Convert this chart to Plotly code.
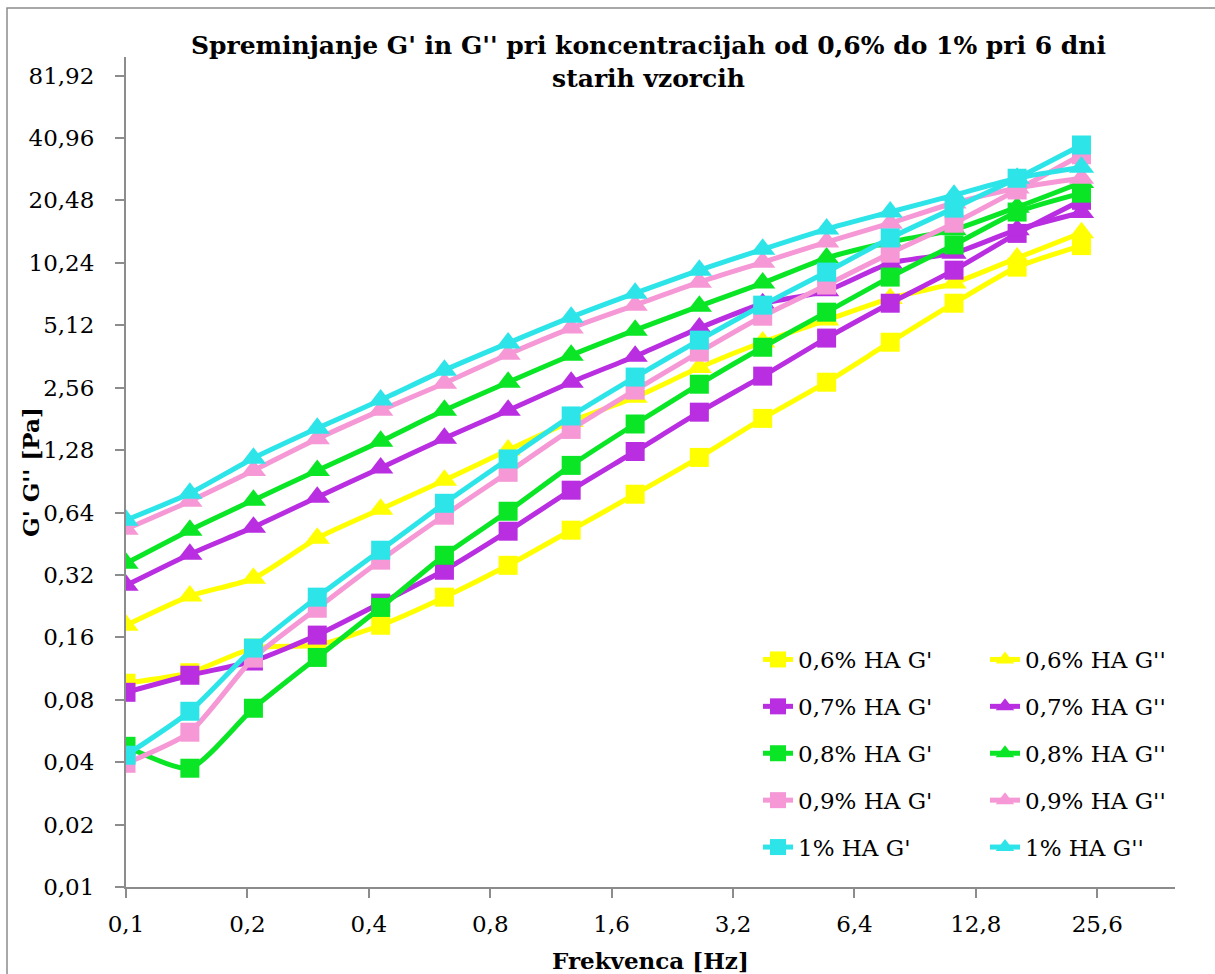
import plotly.graph_objects as go

# ---- data ----
freq = [0.1, 0.144, 0.207, 0.298, 0.428, 0.616, 0.886, 1.27, 1.83, 2.64, 3.79, 5.46, 7.85, 11.3, 16.2, 23.4]

g1_06 = [0.0961, 0.108, 0.142, 0.147, 0.183, 0.25, 0.356, 0.526, 0.784, 1.18, 1.82, 2.72, 4.24, 6.54, 9.76, 12.4]
g2_06 = [0.183, 0.253, 0.308, 0.481, 0.664, 0.916, 1.28, 1.76, 2.30, 3.2, 4.25, 5.42, 6.9, 8.18, 10.8, 14.3]
g1_07 = [0.0869, 0.105, 0.123, 0.164, 0.234, 0.337, 0.52, 0.82, 1.26, 1.95, 2.91, 4.44, 6.54, 9.44, 14.2, 20.5]
g2_07 = [0.285, 0.403, 0.544, 0.758, 1.05, 1.46, 1.99, 2.72, 3.63, 4.96, 6.5, 7.5, 10.2, 11.4, 14.8, 17.9]
g1_08 = [0.0477, 0.0374, 0.0728, 0.128, 0.223, 0.398, 0.649, 1.08, 1.71, 2.66, 4.01, 5.92, 8.74, 12.5, 18.0, 22.2]
g2_08 = [0.364, 0.526, 0.734, 1.02, 1.41, 1.99, 2.72, 3.67, 4.85, 6.33, 8.18, 10.8, 12.9, 14.8, 19.0, 25.0]
g1_09 = [0.0395, 0.0558, 0.127, 0.221, 0.377, 0.621, 1.0, 1.61, 2.49, 3.80, 5.66, 8.0, 11.4, 15.9, 23.0, 34.0]
g2_09 = [0.532, 0.726, 1.02, 1.45, 1.99, 2.69, 3.71, 4.96, 6.40, 8.26, 10.3, 12.9, 15.9, 19.9, 23.5, 26.2]
g1_10 = [0.0432, 0.0704, 0.142, 0.25, 0.421, 0.709, 1.16, 1.87, 2.88, 4.34, 6.40, 9.24, 13.5, 18.8, 26.2, 37.9]
g2_10 = [0.588, 0.793, 1.17, 1.63, 2.23, 3.11, 4.20, 5.60, 7.31, 9.44, 11.9, 14.9, 18.0, 21.7, 26.2, 29.6]

names_g1 = ["0,6% HA G'", "0,7% HA G'", "0,8% HA G'", "0,9% HA G'", "1% HA G'"]
names_g2 = ["0,6% HA G''", "0,7% HA G''", "0,8% HA G''", "0,9% HA G''", "1% HA G''"]
colors = ["#FFFF00", "#B92EE0", "#0AE626", "#F598D5", "#2DE5E8"]

x_tickvals = [0.1, 0.2, 0.4, 0.8, 1.6, 3.2, 6.4, 12.8, 25.6]
x_ticktext = ["0,1", "0,2", "0,4", "0,8", "1,6", "3,2", "6,4", "12,8", "25,6"]
y_tickvals = [0.01, 0.02, 0.04, 0.08, 0.16, 0.32, 0.64, 1.28, 2.56, 5.12, 10.24, 20.48, 40.96, 81.92]
y_ticktext = ["0,01", "0,02", "0,04", "0,08", "0,16", "0,32", "0,64", "1,28", "2,56", "5,12",
              "10,24", "20,48", "40,96", "81,92"]

title_text = "<b>Spreminjanje G' in G'' pri koncentracijah od 0,6% do 1% pri 6 dni<br>starih vzorcih</b>"

FONT = "DejaVu Serif"
FS = 23

g1_series = [g1_06, g1_07, g1_08, g1_09, g1_10]
g2_series = [g2_06, g2_07, g2_08, g2_09, g2_10]

fig = go.Figure()
for k in range(5):
    fig.add_trace(go.Scatter(
        x=freq, y=g1_series[k], name=names_g1[k], mode="lines+markers",
        line=dict(color=colors[k], width=5, shape="spline", smoothing=0.6),
        marker=dict(symbol="square", size=19, color=colors[k]),
        legend="legend", legendgroup="a%d" % k))
    fig.add_trace(go.Scatter(
        x=freq, y=g2_series[k], name=names_g2[k], mode="lines+markers",
        line=dict(color=colors[k], width=5, shape="spline", smoothing=0.6),
        marker=dict(symbol="triangle-up", size=22, color=colors[k]),
        legend="legend2", legendgroup="b%d" % k))

L, R, T, B = 126, 40, 57, 87
W, H = 1215, 974
pw = W - L - R
ph = H - T - B

def px_x(p):
    return (p - L) / pw

def px_y(p):
    return (H - B - p) / ph

axis_col = "#8C8C8C"
legend_common = dict(font=dict(family=FONT, size=FS, color="black"), bgcolor="rgba(0,0,0,0)",
                     tracegroupgap=14, yanchor="top", xanchor="left", itemsizing="trace")

fig.update_layout(
    width=W, height=H,
    margin=dict(l=L, r=R, t=T, b=B),
    paper_bgcolor="white", plot_bgcolor="white",
    font=dict(family=FONT, size=FS, color="black"),
    legend=dict(x=px_x(758), y=px_y(638), **legend_common),
    legend2=dict(x=px_x(985), y=px_y(638), **legend_common),
    xaxis=dict(type="log", range=[-1, 1.601], tickvals=x_tickvals, ticktext=x_ticktext,
               showline=True, linecolor=axis_col, linewidth=2, ticks="outside", ticklen=9,
               tickcolor=axis_col, tickwidth=2, showgrid=False, zeroline=False,
               tickfont=dict(family=FONT, size=FS, color="black"), ticklabelstandoff=6),
    yaxis=dict(type="log", range=[-2, 2.003], tickvals=y_tickvals, ticktext=y_ticktext,
               showline=True, linecolor=axis_col, linewidth=2, ticks="outside", ticklen=9,
               tickcolor=axis_col, tickwidth=2, showgrid=False, zeroline=False,
               tickfont=dict(family=FONT, size=FS, color="black"), ticklabelstandoff=16),
    annotations=[
        dict(text=title_text, xref="paper", yref="paper", x=px_x(648), y=px_y(29),
             xanchor="center", yanchor="top", showarrow=False,
             font=dict(family=FONT, size=25, color="black")),
        dict(text="<b>Frekvenca [Hz]</b>", xref="paper", yref="paper", x=px_x(650), y=px_y(960),
             xanchor="center", yanchor="middle", showarrow=False,
             font=dict(family=FONT, size=FS, color="black")),
        dict(text="<b>G' G'' [Pa]</b>", xref="paper", yref="paper", x=px_x(30), y=0.5,
             xanchor="center", yanchor="middle", showarrow=False, textangle=-90,
             font=dict(family=FONT, size=FS, color="black")),
    ],
    shapes=[dict(type="rect", xref="paper", yref="paper", x0=px_x(7), x1=px_x(1260),
                 y0=px_y(1020), y1=px_y(8), line=dict(color="#8C8C8C", width=1.5),
                 fillcolor="rgba(0,0,0,0)", layer="below")],
)

fig.write_html("out.html")
